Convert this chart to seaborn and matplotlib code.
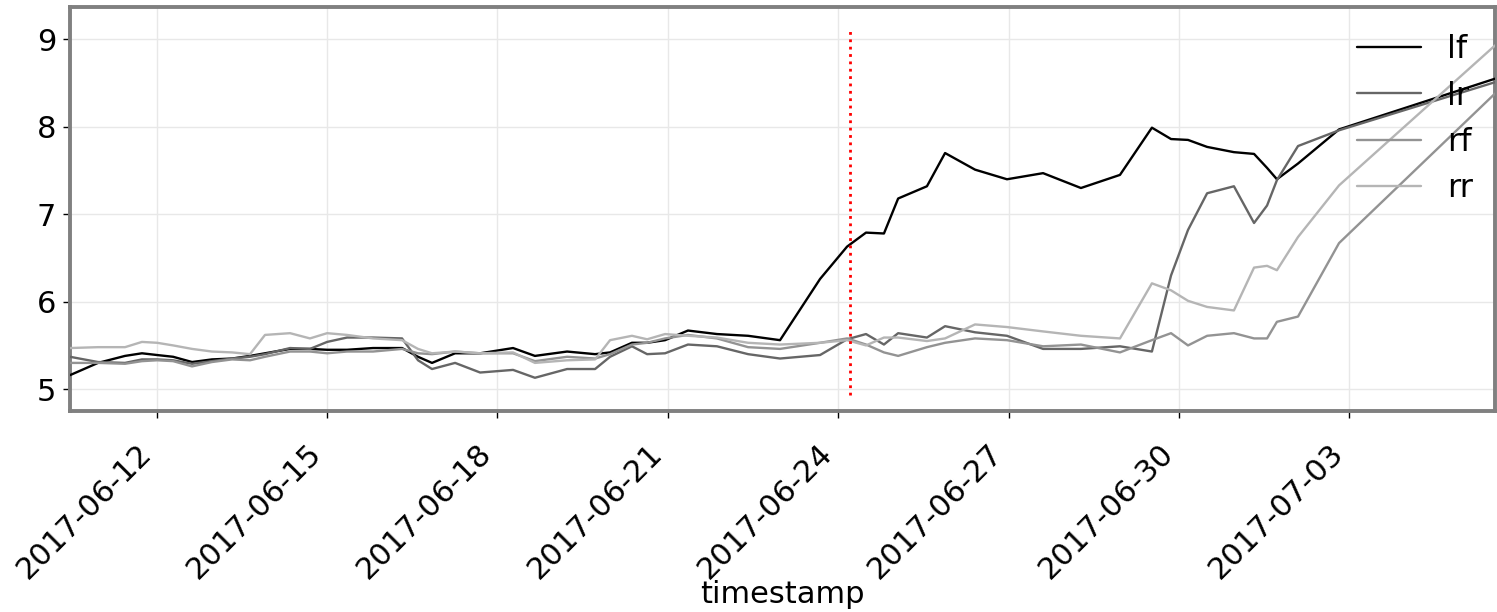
import numpy as np
import pandas as pd
import matplotlib
matplotlib.use("Agg")
import matplotlib.pyplot as plt
import matplotlib.dates as mdates
import seaborn as sns

timestamps = [
    "2017-06-10 11:20", "2017-06-10 23:10", "2017-06-11 10:35", "2017-06-11 17:45",
    "2017-06-12 00:10", "2017-06-12 06:55", "2017-06-12 14:55", "2017-06-12 23:20",
    "2017-06-13 07:50", "2017-06-13 15:25", "2017-06-13 21:45", "2017-06-14 08:20",
    "2017-06-14 16:45", "2017-06-15 00:00", "2017-06-15 08:25", "2017-06-15 19:25",
    "2017-06-16 07:40", "2017-06-16 14:25", "2017-06-16 20:20", "2017-06-17 06:05",
    "2017-06-17 16:40", "2017-06-18 06:35", "2017-06-18 15:50", "2017-06-19 05:25",
    "2017-06-19 17:15", "2017-06-19 23:35", "2017-06-20 08:50", "2017-06-20 15:15",
    "2017-06-20 22:50", "2017-06-21 08:30", "2017-06-21 20:45", "2017-06-22 09:55",
    "2017-06-22 23:25", "2017-06-23 16:20", "2017-06-24 03:45", "2017-06-24 11:45",
    "2017-06-24 19:20", "2017-06-25 01:20", "2017-06-25 13:30", "2017-06-25 21:10",
    "2017-06-26 09:50", "2017-06-26 23:20", "2017-06-27 14:35", "2017-06-28 06:35",
    "2017-06-28 23:05", "2017-06-29 12:35", "2017-06-29 20:40", "2017-06-30 03:50",
    "2017-06-30 11:55", "2017-06-30 23:15", "2017-07-01 07:45", "2017-07-01 13:15",
    "2017-07-01 17:25", "2017-07-02 02:20", "2017-07-02 19:40", "2017-07-05 13:35",
]

lf = [5.16, 5.30, 5.38, 5.41, 5.39, 5.37, 5.31, 5.34, 5.35, 5.38,
      5.41, 5.46, 5.46, 5.45, 5.45, 5.47, 5.47, 5.37, 5.30, 5.41,
      5.41, 5.47, 5.38, 5.43, 5.40, 5.42, 5.53, 5.53, 5.56, 5.67,
      5.63, 5.61, 5.56, 6.26, 6.63, 6.79, 6.78, 7.18, 7.32, 7.70,
      7.51, 7.40, 7.47, 7.30, 7.45, 7.99, 7.86, 7.85, 7.77, 7.71,
      7.69, 7.53, 7.40, 7.58, 7.97, 8.55]

lr = [5.37, 5.31, 5.30, 5.34, 5.34, 5.33, 5.29, 5.32, 5.35, 5.37,
      5.40, 5.47, 5.46, 5.54, 5.59, 5.59, 5.58, 5.33, 5.23, 5.30,
      5.19, 5.22, 5.13, 5.23, 5.23, 5.37, 5.49, 5.40, 5.41, 5.51,
      5.49, 5.40, 5.35, 5.39, 5.57, 5.63, 5.51, 5.64, 5.59, 5.72,
      5.65, 5.61, 5.46, 5.46, 5.49, 5.43, 6.30, 6.82, 7.24, 7.32,
      6.90, 7.10, 7.39, 7.78, 7.96, 8.51]

rf = [5.30, 5.30, 5.29, 5.32, 5.33, 5.32, 5.26, 5.31, 5.34, 5.33,
      5.37, 5.43, 5.43, 5.41, 5.43, 5.43, 5.46, 5.41, 5.40, 5.43,
      5.41, 5.41, 5.32, 5.37, 5.35, 5.40, 5.51, 5.53, 5.58, 5.62,
      5.58, 5.48, 5.46, 5.53, 5.58, 5.51, 5.42, 5.38, 5.48, 5.53,
      5.58, 5.56, 5.49, 5.51, 5.42, 5.56, 5.64, 5.50, 5.61, 5.64,
      5.58, 5.58, 5.77, 5.83, 6.67, 8.38]

rr = [5.47, 5.48, 5.48, 5.54, 5.53, 5.50, 5.46, 5.43, 5.42, 5.40,
      5.62, 5.64, 5.58, 5.64, 5.62, 5.58, 5.56, 5.46, 5.41, 5.43,
      5.41, 5.42, 5.30, 5.33, 5.34, 5.56, 5.61, 5.57, 5.63, 5.61,
      5.59, 5.53, 5.51, 5.53, 5.56, 5.50, 5.59, 5.59, 5.55, 5.58,
      5.74, 5.71, 5.66, 5.61, 5.58, 6.21, 6.13, 6.01, 5.94, 5.90,
      6.39, 6.41, 6.36, 6.74, 7.33, 8.93]

series_names = ["lf", "lr", "rf", "rr"]
series_colors = ["#000000", "#666666", "#939393", "#b5b5b5"]
event_time = "2017-06-24 05:00"
event_range = [4.93, 9.11]
tick_dates = ["2017-06-12", "2017-06-15", "2017-06-18", "2017-06-21",
              "2017-06-24", "2017-06-27", "2017-06-30", "2017-07-03"]

ts = pd.to_datetime(timestamps)
df = pd.DataFrame({"timestamp": ts, "lf": lf, "lr": lr, "rf": rf, "rr": rr})
long = df.melt(id_vars="timestamp", value_vars=series_names,
               var_name="wheel", value_name="value")

sns.set_style("white")
plt.rcParams["font.family"] = ["DejaVu Sans"]
plt.rcParams["text.color"] = "black"
plt.rcParams["axes.labelcolor"] = "black"
plt.rcParams["xtick.color"] = "black"
plt.rcParams["ytick.color"] = "black"

fig = plt.figure(figsize=(14.97, 6.12), dpi=100)
ax = fig.add_axes([70 / 1497, 1 - 411 / 612, (1495 - 70) / 1497, (411 - 7) / 612])

sns.lineplot(data=long, x="timestamp", y="value", hue="wheel",
             palette=dict(zip(series_names, series_colors)),
             linewidth=1.7, ax=ax, legend=True, zorder=3)

ax.vlines(pd.Timestamp(event_time), event_range[0], event_range[1],
          colors="red", linestyles=":", linewidth=2, zorder=4)

ax.set_xlim(ts[0], ts[-1])
ax.set_ylim(4.75, 9.37)
ax.set_yticks([5, 6, 7, 8, 9])
ax.set_xticks(pd.to_datetime(tick_dates))
ax.xaxis.set_major_formatter(mdates.DateFormatter("%Y-%m-%d"))
ax.grid(True, color="#e8e8e8", linewidth=1, zorder=0)
ax.set_axisbelow(True)

for s in ax.spines.values():
    s.set_color("#808080")
    s.set_linewidth(2.8)

ax.tick_params(axis="both", which="major", labelsize=22, length=5, width=1,
               color="black", labelcolor="black", direction="out",
               bottom=True, left=True, pad=5)
ax.tick_params(axis="x", pad=15)
plt.setp(ax.get_xticklabels(), rotation=45, ha="right", rotation_mode="default")
ax.set_xlabel("timestamp", fontsize=22, color="black", labelpad=-3)
ax.set_ylabel("")

handles, labels = ax.get_legend_handles_labels()
ax.legend(handles, labels, loc="upper right", bbox_to_anchor=(1.0, 0.988),
          frameon=False, fontsize=23, borderaxespad=0.3, labelspacing=0.48,
          labelcolor="black")

fig.savefig("out.png", dpi=100)
